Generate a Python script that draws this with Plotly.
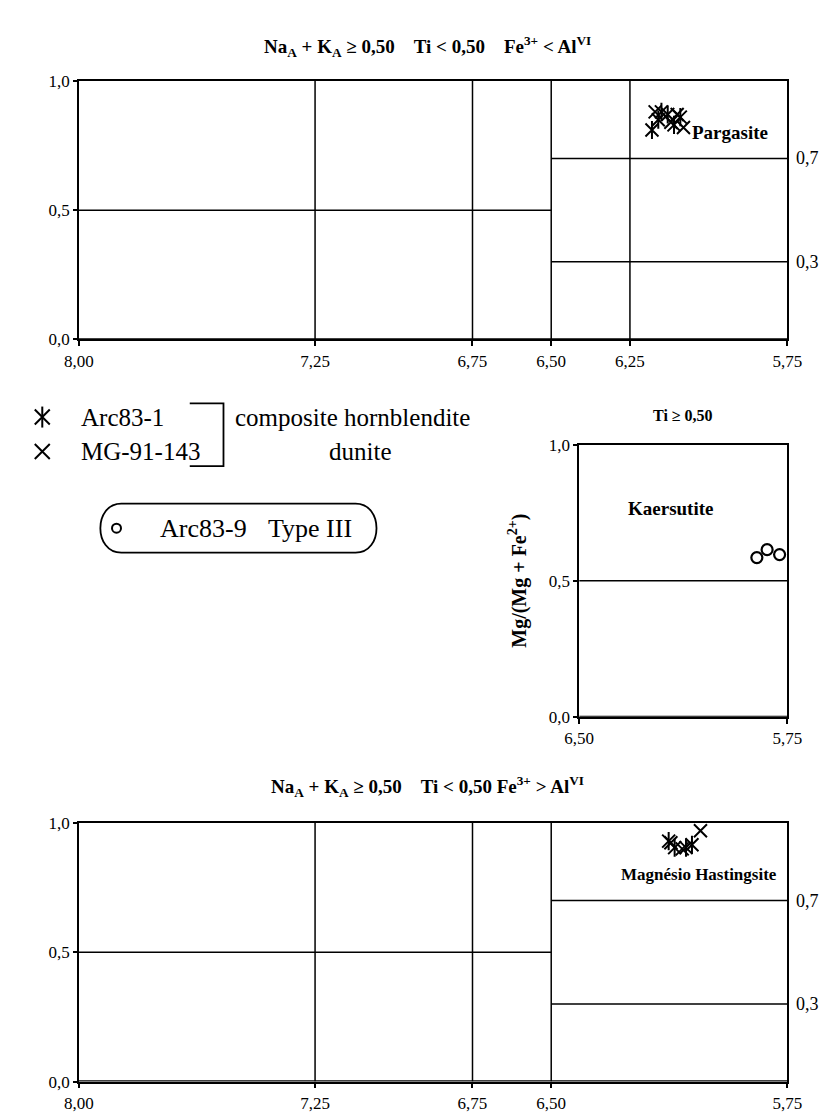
import plotly.graph_objects as go

W, H = 831, 1115

# ---------------- data ----------------
top_ticks = [8.00, 7.25, 6.75, 6.50, 6.25, 5.75]
top_tick_text = ["8,00", "7,25", "6,75", "6,50", "6,25", "5,75"]
bottom_ticks = [8.00, 7.25, 6.75, 6.50, 5.75]
bottom_tick_text = ["8,00", "7,25", "6,75", "6,50", "5,75"]
mid_ticks = [6.50, 5.75]
mid_tick_text = ["6,50", "5,75"]
y_ticks = [0.0, 0.5, 1.0]
y_tick_text = ["0,0", "0,5", "1,0"]

top_vlines = [7.25, 6.75, 6.50, 6.25]
bottom_vlines = [7.25, 6.75, 6.50]
split_si = 6.50
left_hline = 0.5
right_hlines = [0.7, 0.3]
right_hline_text = ["0,7", "0,3"]
mid_hline = 0.5

# Pargasite field (top)
arc831_top_si = [6.18, 6.16, 6.13, 6.11, 6.09, 6.15]
arc831_top_mg = [0.81, 0.85, 0.87, 0.83, 0.86, 0.88]
mg91_top_si = [6.17, 6.12, 6.10, 6.08]
mg91_top_mg = [0.88, 0.84, 0.87, 0.82]

# Kaersutite (middle)
arc839_si = [5.86, 5.823, 5.778]
arc839_mg = [0.585, 0.614, 0.596]

# Magnesio-hastingsite field (bottom)
arc831_bot_si = [6.127, 6.108, 6.072, 6.053]
arc831_bot_mg = [0.93, 0.905, 0.905, 0.916]
mg91_bot_si = [6.026, 6.084, 6.12]
mg91_bot_mg = [0.97, 0.90, 0.924]

# ---------------- layout helpers ----------------
def fx(p):
    return p / W

def fy(p):
    return 1 - p / H

SERIF = "Liberation Serif, Times New Roman, serif"
BLACK = "black"

fig = go.Figure()

def asterisk(xs, ys, xa, ya, size):
    for sym in ["x-thin-open", "line-ns-open"]:
        fig.add_trace(go.Scatter(
            x=xs, y=ys, xaxis=xa, yaxis=ya, mode="markers", showlegend=False,
            marker=dict(symbol=sym, size=size, color=BLACK,
                        line=dict(color=BLACK, width=2)),
            hoverinfo="skip"))

def cross(xs, ys, xa, ya, size):
    fig.add_trace(go.Scatter(
        x=xs, y=ys, xaxis=xa, yaxis=ya, mode="markers", showlegend=False,
        marker=dict(symbol="x-thin-open", size=size, color=BLACK,
                    line=dict(color=BLACK, width=2)),
        hoverinfo="skip"))

# top
asterisk(arc831_top_si, arc831_top_mg, "x", "y", 13)
cross(mg91_top_si, mg91_top_mg, "x", "y", 13)
# middle
fig.add_trace(go.Scatter(
    x=arc839_si, y=arc839_mg, xaxis="x2", yaxis="y2", mode="markers",
    showlegend=False,
    marker=dict(symbol="circle-open", size=11, color=BLACK,
                line=dict(color=BLACK, width=2.2)),
    hoverinfo="skip"))
# bottom
asterisk(arc831_bot_si, arc831_bot_mg, "x3", "y3", 13)
cross(mg91_bot_si, mg91_bot_mg, "x3", "y3", 13)

# legend symbols on a pixel-space overlay axis
asterisk([20], [407], "x4", "y4", 15)
cross([20], [442], "x4", "y4", 15)
fig.add_trace(go.Scatter(
    x=[97], y=[520], xaxis="x4", yaxis="y4", mode="markers", showlegend=False,
    marker=dict(symbol="circle-open", size=9, color=BLACK,
                line=dict(color=BLACK, width=2)),
    hoverinfo="skip"))

tickfont = dict(family=SERIF, size=17, color=BLACK)

def xaxis_cfg(dom, rng, tv, tt):
    return dict(domain=dom, range=rng, tickvals=tv, ticktext=tt,
                ticks="outside", ticklen=5, tickwidth=1.5, tickcolor=BLACK,
                showline=True, linewidth=1.5, linecolor=BLACK, mirror=True,
                showgrid=False, zeroline=False, tickfont=tickfont,
                fixedrange=True)

def yaxis_cfg(dom, anchor):
    return dict(domain=dom, range=[0, 1], tickvals=y_ticks, ticktext=y_tick_text,
                ticks="outside", ticklen=4, tickwidth=1.5, tickcolor=BLACK,
                showline=True, linewidth=1.5, linecolor=BLACK, mirror=True,
                showgrid=False, zeroline=False, tickfont=tickfont,
                anchor=anchor, fixedrange=True)

top_x = [fx(58), fx(793)]
top_y = [fy(328), fy(65)]
mid_x = [fx(577), fx(793)]
mid_y = [fy(712), fy(435)]
bot_x = [fx(58), fx(793)]
bot_y = [fy(1083), fy(820)]

fig.update_layout(
    width=W, height=H,
    margin=dict(l=0, r=0, t=0, b=0),
    paper_bgcolor="white", plot_bgcolor="rgba(0,0,0,0)",
    xaxis=dict(xaxis_cfg(top_x, [8.0, 5.75], top_ticks, top_tick_text), anchor="y"),
    yaxis=yaxis_cfg(top_y, "x"),
    xaxis2=dict(xaxis_cfg(mid_x, [6.50, 5.75], mid_ticks, mid_tick_text), anchor="y2"),
    yaxis2=yaxis_cfg(mid_y, "x2"),
    xaxis3=dict(xaxis_cfg(bot_x, [8.0, 5.75], bottom_ticks, bottom_tick_text), anchor="y3"),
    yaxis3=yaxis_cfg(bot_y, "x3"),
    xaxis4=dict(domain=[0, 1], range=[0, W], visible=False, anchor="y4", fixedrange=True),
    yaxis4=dict(domain=[0, 1], range=[H, 0], visible=False, anchor="x4", fixedrange=True),
    showlegend=False,
)

shapes = []
LW = 1.5

def line(xref, yref, x0, y0, x1, y1, w=LW):
    shapes.append(dict(type="line", xref=xref, yref=yref, x0=x0, y0=y0,
                       x1=x1, y1=y1, line=dict(color=BLACK, width=w)))

# top plot field boundaries
for v in top_vlines:
    line("x", "y", v, 0, v, 1)
line("x", "y", 8.0, left_hline, split_si, left_hline)
for h in right_hlines:
    line("x", "y", split_si, h, 5.75, h)
line("x", "y", 8.0, 0, 5.75, 0, 2.5)

# middle plot
line("x2", "y2", 6.50, mid_hline, 5.75, mid_hline)
line("x2", "y2", 6.50, 0, 5.75, 0, 2.0)

# bottom plot
for v in bottom_vlines:
    line("x3", "y3", v, 0, v, 1)
line("x3", "y3", 8.0, left_hline, split_si, left_hline)
for h in right_hlines:
    line("x3", "y3", split_si, h, 5.75, h)
line("x3", "y3", 8.0, 0, 5.75, 0, 2.5)

# legend bracket and rounded box (pixel overlay axis)
shapes.append(dict(type="path", xref="x4", yref="y4",
                   path="M 173,393 L 208,393 L 208,457 L 173,457",
                   line=dict(color=BLACK, width=1.8)))
shapes.append(dict(type="path", xref="x4", yref="y4",
                   path=("M 102,495 L 345,495 C 374,495 374,545 345,545 "
                         "L 102,545 C 73,545 73,495 102,495 Z"),
                   line=dict(color=BLACK, width=1.8)))

fig.update_layout(shapes=shapes)

ann = []

def text(x, y, s, size, bold=False, xref="x4", yref="y4", xanchor="center",
         yanchor="middle", angle=0):
    if bold:
        s = "<b>" + s + "</b>"
    ann.append(dict(x=x, y=y, xref=xref, yref=yref, text=s, showarrow=False,
                    xanchor=xanchor, yanchor=yanchor, textangle=angle,
                    font=dict(family=SERIF, size=size, color=BLACK)))

SP = "&nbsp;&nbsp;&nbsp;&nbsp;"
title_top = ("Na<sub>A</sub> + K<sub>A</sub> ≥ 0,50" + SP + "Ti &lt; 0,50" + SP +
             "Fe<sup>3+</sup> &lt; Al<sup>VI</sup>")
title_bot = ("Na<sub>A</sub> + K<sub>A</sub> ≥ 0,50" + SP + "Ti &lt; 0,50 " +
             "Fe<sup>3+</sup> &gt; Al<sup>VI</sup>")
text(420, 30, title_top, 19, bold=True)
text(420, 783, title_bot, 19, bold=True)
text(685, 405, "Ti ≥ 0,50", 16, bold=True)

# field names
text(6.06, 0.80, "Pargasite", 19, bold=True, xref="x", yref="y", xanchor="left")
text(6.17, 0.765, "Kaersutite", 19, bold=True, xref="x2", yref="y2")
text(6.03, 0.80, "Magnésio Hastingsite", 17, bold=True, xref="x3", yref="y3")

# right-side labels of the 0.7 / 0.3 boundaries
for h, t in zip(right_hlines, right_hline_text):
    text(fx(800), h, t, 18, xref="paper", yref="y", xanchor="left")
    text(fx(800), h, t, 18, xref="paper", yref="y3", xanchor="left")

# middle y-axis title
text(513, 573, "Mg/(Mg + Fe<sup>2+</sup>)", 20, bold=True, angle=-90)

# legend text
text(58, 407, "Arc83-1", 25, xanchor="left")
text(58, 442, "MG-91-143", 25, xanchor="left")
text(218, 407, "composite hornblendite", 25, xanchor="left")
text(350, 442, "dunite", 25)
text(140, 520, "Arc83-9", 26, xanchor="left")
text(252, 520, "Type III", 26, xanchor="left")

fig.update_layout(annotations=ann)

fig.write_html("out.html")
